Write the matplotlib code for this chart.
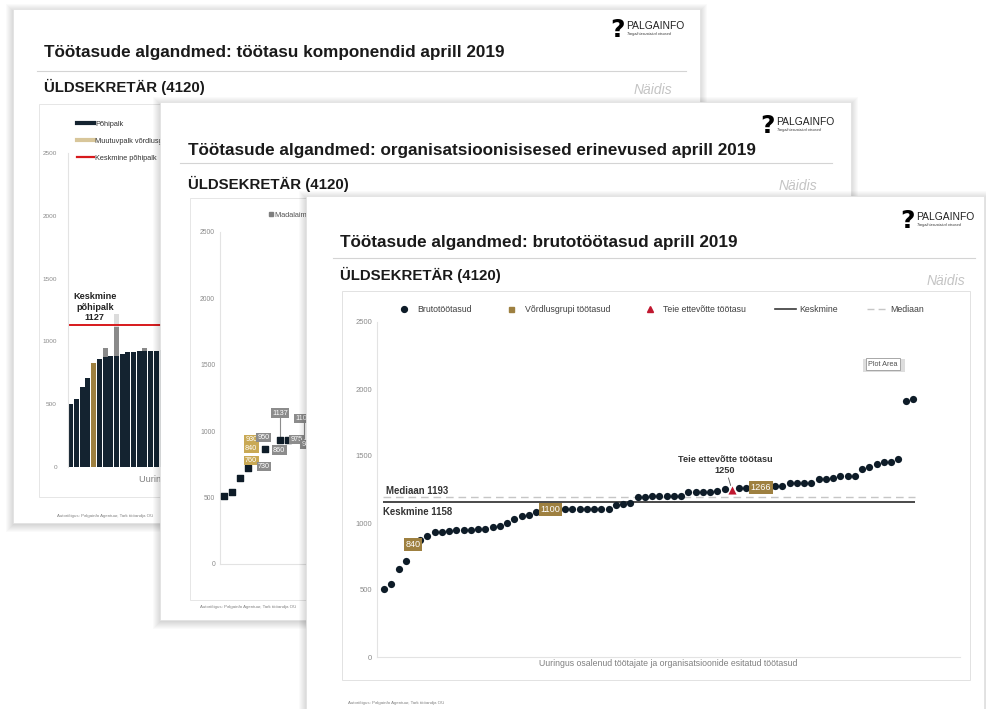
import numpy as np
import matplotlib
matplotlib.use("Agg")
import matplotlib.pyplot as plt
from matplotlib.patches import Rectangle
from matplotlib.lines import Line2D

plt.rcParams['font.family'] = ['Liberation Sans', 'DejaVu Sans']

# ---------------- data ----------------
yticks = [0, 500, 1000, 1500, 2000, 2500]

# slide 1: töötasu komponendid (only the left part is visible)
komp_pohipalk = [500, 540, 640, 706, 830, 857, 873, 886, 886, 900, 912, 912, 920, 920, 925, 925, 930]
komp_muutuv = [0, 0, 0, 0, 0, 0, 72, 0, 229, 0, 0, 0, 0, 30, 0, 0, 0]
komp_lisa = [0, 0, 0, 0, 0, 0, 0, 0, 101, 0, 0, 0, 0, 0, 0, 0, 0]
komp_grupp = 4
komp_keskmine = 1127

# slide 2: organisatsioonisisesed erinevused
org_pos = [0, 1, 2, 3, 5.1, 7, 8]
org_madalaim = [512, 542, 648, 723, 866, 934, 934]
org_lbl_pos = [3.4, 3.4, 3.4, 4.9, 5.0, 7.0, 6.9, 9.1, 10.4, 9.9]
org_lbl_val = [934, 870, 778, 953, 733, 1135, 858, 939, 901, 1097]
org_lbl_text = ['930', '840', '760', '950', '730', '1137', '860', '975', '905', '1105']
org_lbl_gold = [True, True, True, False, False, False, False, False, False, False]
org_leader_pos = [7, 10]
org_leader_low = [934, 945]
org_leader_high = [1135, 1097]

# slide 3: brutotöötasud
brutotootasud = [510, 545, 657, 716, 840, 875, 903, 933, 933, 940,
                 948, 948, 948, 955, 955, 970, 978, 1000, 1030, 1052,
                 1060, 1082, 1090, 1100, 1100, 1104, 1104, 1104, 1104, 1104,
                 1104, 1104, 1134, 1142, 1149, 1192, 1192, 1204, 1204, 1204,
                 1204, 1204, 1229, 1229, 1229, 1229, 1241, 1251, 1250, 1258,
                 1263, 1265, 1266, 1270, 1276, 1276, 1301, 1301, 1301, 1301,
                 1328, 1328, 1336, 1353, 1353, 1353, 1403, 1420, 1438, 1453,
                 1453, 1480, 1913, 1927]
grupp_idx = [4, 23, 52]
teie_idx = 48
keskmine = 1158
mediaan = 1193

legend3 = ['Brutotöötasud', 'Võrdlusgrupi töötasud', 'Teie ettevõtte töötasu', 'Keskmine', 'Mediaan']
xlabel3 = 'Uuringus osalenud töötajate ja organisatsioonide esitatud töötasud'
footer = 'Autoriõigus: Palgainfo Agentuur, Tark tööandja OÜ'

NAVY = '#0e1c28'
GOLD = '#9e8040'
RED = '#c0172f'
TICK = '#8a8a8a'

W, H = 986, 709
fig = plt.figure(figsize=(W / 100, H / 100), dpi=100)


def layer(z):
    ax = fig.add_axes([0, 0, 1, 1], zorder=z)
    ax.set_xlim(0, W)
    ax.set_ylim(H, 0)
    ax.axis('off')
    return ax


def chart(x0, y0, x1, y1, z):
    ax = fig.add_axes([x0 / W, 1 - y1 / H, (x1 - x0) / W, (y1 - y0) / H], zorder=z)
    ax.patch.set_alpha(0)
    for s in ['top', 'right']:
        ax.spines[s].set_visible(False)
    for s in ['left', 'bottom']:
        ax.spines[s].set_color('#e3e3e3')
        ax.spines[s].set_linewidth(0.8)
    ax.set_ylim(0, 2500)
    ax.set_yticks(yticks)
    ax.set_xticks([])
    return ax


def slide(ax, x0, y0, x1, y1):
    for k in range(8, 0, -1):
        ax.add_patch(Rectangle((x0 - k + 1, y0 - k + 3), x1 - x0 + 2 * k - 2, y1 - y0 + 2 * k - 2,
                               fc='black', ec='none', alpha=0.02))
    ax.add_patch(Rectangle((x0, y0), x1 - x0, y1 - y0, fc='white', ec='#e2e2e2', lw=0.6))


def header(ax, title, tx, ty, lx0, lx1, ly, sy, nx, ny, gx, gy):
    ax.text(tx, ty, title, fontsize=12.3, fontweight='bold', color='#1a1a1a', va='center')
    ax.plot([lx0, lx1], [ly, ly], color='#d4d4d4', lw=0.8)
    ax.text(tx, sy, 'ÜLDSEKRETÄR (4120)', fontsize=10.8, fontweight='bold', color='#1a1a1a', va='center')
    ax.text(nx, ny, 'Näidis', fontsize=10, style='italic', color='#c4c4c4', va='center', ha='right')
    # logo
    ax.text(gx, gy + 2, '?', fontsize=18, fontweight='bold', family='DejaVu Sans',
            color='black', ha='center', va='center')
    ax.text(gx + 8, gy - 2, 'PALGAINFO', fontsize=7.4, color='#222222', va='center')
    ax.text(gx + 9, gy + 6, 'Targalt tasustatud otsused', fontsize=2.7, style='italic',
            color='#333333', va='center')


def value_box(ax, x, y, text, fc, size):
    ax.text(x, y, text, fontsize=size, color='white', ha='center', va='center', zorder=5,
            bbox=dict(boxstyle='square,pad=0.18', fc=fc, ec='none'))


# ---------------- slide 1 ----------------
L1 = layer(1)
slide(L1, 13, 9, 700, 523)
header(L1, 'Töötasude algandmed: töötasu komponendid aprill 2019',
       44, 53, 37, 686, 71, 87, 672, 90, 618, 28)
L1.add_patch(Rectangle((39, 104), 520, 393, fc='none', ec='#e6e6e6', lw=0.7))
L1.text(139, 480, 'Uuringus osalenud töötajad', fontsize=6.6, color='#808080', va='center')
L1.text(57, 516, footer, fontsize=3.2, color='#808080', va='center')

ax1 = chart(68, 153, 600, 467, 2)
ax1.spines['bottom'].set_visible(False)
n1 = len(komp_pohipalk)
x1 = np.arange(n1)
base = np.array(komp_pohipalk)
muut = np.array(komp_muutuv)
cols1 = [GOLD if i == komp_grupp else '#142330' for i in range(n1)]
ax1.bar(x1, base, width=0.88, color=cols1)
ax1.bar(x1, muut, width=0.88, bottom=base, color='#8a8a8a')
ax1.bar(x1, komp_lisa, width=0.88, bottom=base + muut, color='#dcdcdc')
ax1.axhline(komp_keskmine, color='#d7191c', lw=1.4)
ax1.annotate('Keskmine\npõhipalk\n%d' % komp_keskmine, xy=(4.2, komp_keskmine), xytext=(0, 2.5),
             textcoords='offset points', ha='center', va='bottom', fontsize=6.6,
             fontweight='bold', color='#222222', linespacing=1.2)
ax1.set_xlim(-0.5, 92.8)
ax1.tick_params(axis='y', labelsize=4.6, labelcolor=TICK, length=0, pad=8)
h1 = [Line2D([], [], color='#142330', lw=3), Line2D([], [], color='#d8c69a', lw=3),
      Line2D([], [], color='#d7191c', lw=1.6)]
ax1.legend(h1, ['Põhipalk', 'Muutuvpalk võrdlusgrupis', 'Keskmine põhipalk'],
           loc='upper left', bbox_to_anchor=(70 / W, 1 - 114 / H), bbox_transform=fig.transFigure,
           fontsize=5.3, handlelength=2.3, handletextpad=0.2, labelspacing=1.35,
           frameon=False, labelcolor='#333333')

# ---------------- slide 2 ----------------
L2 = layer(3)
slide(L2, 160, 102, 851, 620)
header(L2, 'Töötasude algandmed: organisatsioonisisesed erinevused aprill 2019',
       188, 150, 180, 832, 163, 184, 817, 186, 768, 124)
L2.add_patch(Rectangle((190, 198), 520, 402, fc='none', ec='#e6e6e6', lw=0.7))
L2.text(200, 607, footer, fontsize=3.2, color='#808080', va='center')

ax2 = chart(220, 232, 700, 564, 4)
ax2.set_xlim(-0.5, 59.5)
ax2.vlines(org_leader_pos, org_leader_low, org_leader_high, color='#8c8c8c', lw=0.8, zorder=2)
ax2.scatter(org_pos, org_madalaim, marker='s', s=13, color=NAVY, zorder=3)
for p, v, t, g in zip(org_lbl_pos, org_lbl_val, org_lbl_text, org_lbl_gold):
    value_box(ax2, p, v, t, '#c9a955' if g else '#8c8c8c', 5.2)
ax2.tick_params(axis='y', labelsize=4.9, labelcolor=TICK, length=0, pad=3.5)
ax2.legend([Line2D([], [], marker='s', ls='none', color='#7f7f7f', ms=2.6)], ['Madalaim töötasu'],
           loc='center left', bbox_to_anchor=(263 / W, 1 - 215 / H), bbox_transform=fig.transFigure,
           fontsize=5.3, handlelength=0.5, handletextpad=0.2, frameon=False, labelcolor='#555555')

# ---------------- slide 3 ----------------
L3 = layer(5)
slide(L3, 306, 196, 984, 730)
header(L3, 'Töötasude algandmed: brutotöötasud aprill 2019',
       340, 242, 333, 975, 258, 275, 965, 281, 908, 219)
L3.add_patch(Rectangle((342, 291), 628, 389, fc='none', ec='#e2e2e2', lw=0.7))
L3.text(348, 703, footer, fontsize=3.2, color='#808080', va='center')

ax3 = chart(377, 322, 960, 657, 6)
vals = np.array(brutotootasud)
idx = np.arange(len(vals))
dots = np.ones(len(vals), dtype=bool)
dots[grupp_idx] = False
dots[teie_idx] = False
ax3.set_xlim(-0.97, 79.5)
ax3.hlines(mediaan, -0.2, 73.3, colors='#c6c6c6', linestyles=(0, (5.5, 3.5)), lw=1.0, zorder=1)
ax3.hlines(keskmine, -0.2, 73.3, colors='#3a3a3a', lw=1.3, zorder=1)
ax3.scatter(idx[dots], vals[dots], s=27, color=NAVY, zorder=3, linewidths=0)
ax3.scatter(idx[grupp_idx], vals[grupp_idx], marker='s', s=27, color=GOLD, zorder=3)
ax3.scatter([teie_idx], [vals[teie_idx]], marker='^', s=34, color=RED, zorder=4, linewidths=0)
for i in grupp_idx:
    value_box(ax3, i, vals[i], str(vals[i]), GOLD, 6.6)
ax3.annotate('Mediaan %d' % mediaan, xy=(0.3, mediaan), xytext=(0, 1), textcoords='offset points',
             fontsize=6.9, fontweight='bold', color='#333333', va='bottom')
ax3.annotate('Keskmine %d' % keskmine, xy=(-0.1, keskmine), xytext=(0, -4), textcoords='offset points',
             fontsize=6.9, fontweight='bold', color='#333333', va='top')
ax3.annotate('Teie ettevõtte töötasu\n%d' % vals[teie_idx], xy=(teie_idx, vals[teie_idx]),
             xytext=(-5, 17.5), textcoords='offset points', ha='center', va='center',
             fontsize=6.6, fontweight='bold', color='#333333', linespacing=1.25,
             arrowprops=dict(arrowstyle='-', color='#555555', lw=0.6, shrinkA=0, shrinkB=3))
ax3.tick_params(axis='y', labelsize=5.5, labelcolor=TICK, length=0, pad=3.5)
ax3.set_xlabel(xlabel3, fontsize=6.3, color='#808080', labelpad=1.5)
h3 = [Line2D([], [], marker='o', ls='none', color=NAVY, ms=4.2),
      Line2D([], [], marker='s', ls='none', color=GOLD, ms=3.6),
      Line2D([], [], marker='^', ls='none', color=RED, ms=4.2),
      Line2D([], [], color='#3a3a3a', lw=1.2),
      Line2D([], [], color='#c6c6c6', lw=1.0, ls=(0, (5, 3)))]
ax3.legend(h3, legend3, ncol=5, loc='lower center', bbox_to_anchor=(0.484, 1.0), frameon=False,
           fontsize=6.3, columnspacing=3.35, handlelength=2.3, handletextpad=0.4,
           borderaxespad=0.5, labelcolor='#404040')

# tooltip on top
L4 = layer(8)
L4.add_patch(Rectangle((863, 359), 42, 13, fc='#bdbdbd', ec='none', alpha=0.5))
L4.text(883, 364, 'Plot Area', fontsize=5.2, ha='center', va='center', color='#505050',
        bbox=dict(boxstyle='square,pad=0.35', fc='white', ec='#9a9a9a', lw=0.6))

fig.savefig('out.png', dpi=100, facecolor='white')
